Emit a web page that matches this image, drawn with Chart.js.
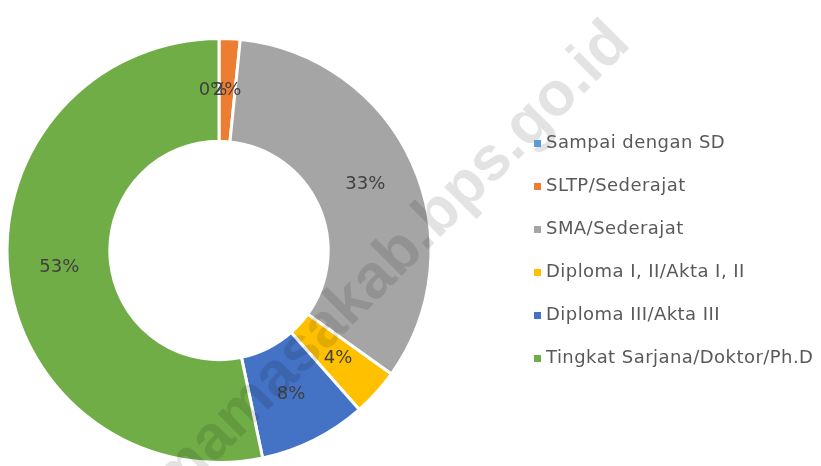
<!DOCTYPE html>
<html>
<head>
<meta charset="utf-8">
<script src="https://cdn.jsdelivr.net/npm/chart.js@4.4.1/dist/chart.umd.min.js"></script>
<style>
  html, body { margin: 0; padding: 0; background: #fff; }
  #wrap { width: 821px; height: 466px; position: relative; }
  #legend { position: absolute; left: 534px; top: 120px; margin: 0; padding: 0; list-style: none;
            font: 18px "DejaVu Sans", sans-serif; color: #595959; letter-spacing: 0.45px; }
  #legend li { height: 43px; line-height: 43px; white-space: nowrap; }
  #legend span { display: inline-block; width: 7px; height: 7px; margin-right: 5px; vertical-align: 1px; }
</style>
</head>
<body>
<div id="wrap">
  <canvas id="pieChart"></canvas>
  <ul id="legend"></ul>
</div>
<script>
const labels = [
    "Sampai dengan SD",
    "SLTP/Sederajat",
    "SMA/Sederajat",
    "Diploma I, II/Akta I, II",
    "Diploma III/Akta III",
    "Tingkat Sarjana/Doktor/Ph.D"
];
const shares = [0, 1.6, 33.3, 3.6, 8.2, 53.3];
const colors = ["#5B9BD5", "#ED7D31", "#A5A5A5", "#FFC000", "#4472C4", "#70AD47"];
const watermark = "mamasakab.bps.go.id";

const FONT = "'DejaVu Sans', sans-serif";

// percent labels in the middle of the ring
const sliceLabels = {
    id: "sliceLabels",
    afterDatasetsDraw(chart) {
        const ctx = chart.ctx;
        const meta = chart.getDatasetMeta(0);
        const total = shares.reduce((a, b) => a + b, 0);
        ctx.save();
        ctx.font = "18px " + FONT;
        ctx.fillStyle = "#404040";
        ctx.textAlign = "center";
        ctx.textBaseline = "middle";
        meta.data.forEach((arc, i) => {
            const p = arc.getProps(["x", "y", "startAngle", "endAngle", "innerRadius", "outerRadius"], true);
            const a = (p.startAngle + p.endAngle) / 2;
            const r = (p.innerRadius + p.outerRadius) / 2;
            const txt = Math.round(shares[i] / total * 100) + "%";
            ctx.fillText(txt, p.x + Math.cos(a) * r - (i === 0 ? 6 : 0), p.y + Math.sin(a) * r);
        });
        ctx.restore();
    }
};

// diagonal source watermark
const mark = {
    id: "mark",
    afterDraw(chart) {
        const ctx = chart.ctx;
        ctx.save();
        ctx.translate(392, 263);
        ctx.rotate(-45 * Math.PI / 180);
        ctx.font = "bold 62px 'Liberation Sans', sans-serif";
        ctx.fillStyle = "rgba(0,0,0,0.11)";
        ctx.textAlign = "center";
        ctx.textBaseline = "alphabetic";
        ctx.fillText(watermark, 0, 16);
        ctx.restore();
    }
};

const pieChart = new Chart(document.getElementById("pieChart"), {
    type: "doughnut",
    data: {
        labels: labels,
        datasets: [{
            data: shares,
            backgroundColor: colors,
            borderColor: "#ffffff",
            borderWidth: 3
        }]
    },
    options: {
        responsive: true,
        maintainAspectRatio: false,
        animation: false,
        cutout: "51.5%",
        layout: { padding: { left: 0, top: 37, bottom: 2, right: 383 } },
        plugins: {
            tooltip: { enabled: false },
            legend: { display: false }
        }
    },
    plugins: [sliceLabels, mark]
});

// legend built from the same arrays
const legendEl = document.getElementById("legend");
labels.forEach((name, i) => {
    const li = document.createElement("li");
    const box = document.createElement("span");
    box.style.background = colors[i];
    li.appendChild(box);
    li.appendChild(document.createTextNode(name));
    legendEl.appendChild(li);
});
</script>
</body>
</html>
